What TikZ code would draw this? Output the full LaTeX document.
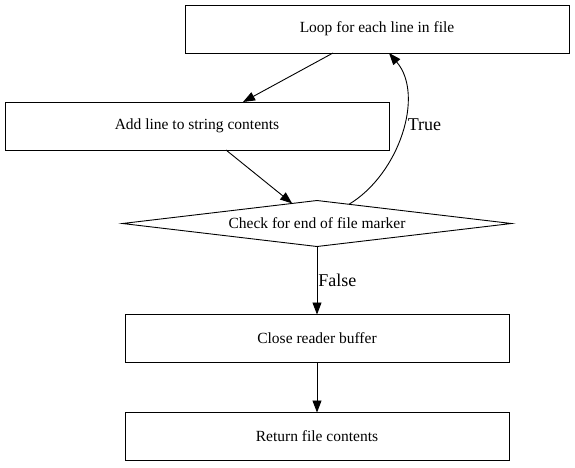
\documentclass[tikz,border=0pt]{standalone}
\usepackage{fontspec}
\setmainfont{Liberation Serif}
\usetikzlibrary{positioning}
\usetikzlibrary{arrows.meta,shapes.geometric}

\begin{document}
\begin{tikzpicture}[x=1pt,y=-1pt,>={Triangle[length=12pt,width=9pt]},line width=0.9pt,
    blocco/.style={draw,minimum width=384pt,minimum height=48pt,inner sep=0pt,outer sep=0pt,font=\fontsize{15.5}{18}\selectfont},
    rombo/.style={draw,diamond,aspect=8,minimum width=389pt,minimum height=46pt,inner sep=0pt,outer sep=0pt,font=\fontsize{15.5}{18}\selectfont},
    esito/.style={inner sep=1pt,font=\fontsize{18}{21}\selectfont}]
        \useasboundingbox (0,0) rectangle (575,467);
        \node[blocco](a) at (377,29){Loop for each line in file};
        \node[blocco](b) at (197,126){Add line to string contents};
        \node[rombo](c) at (317,223.5){Check for end of file marker};
        \node[blocco,below=68pt of c](d){Close reader buffer};
        \node[blocco,below=50pt of d](e){Return file contents};
        %
        \draw[->] ([xshift=-44pt]a.south) -- ([xshift=46pt]b.north);
        \draw[->] ([xshift=29pt]b.south) -- (c);
        \draw[->] (c.31) .. controls +(50,-30) and +(36,42) .. 
        node[esito,pos=0.55,anchor=west,xshift=3pt]{True} ([xshift=12pt]a.south);
        \draw[->] (c) -- node[esito,anchor=west]{False} (d);
        \draw[->] (d) -- (e);
    \end{tikzpicture}
\end{document}
